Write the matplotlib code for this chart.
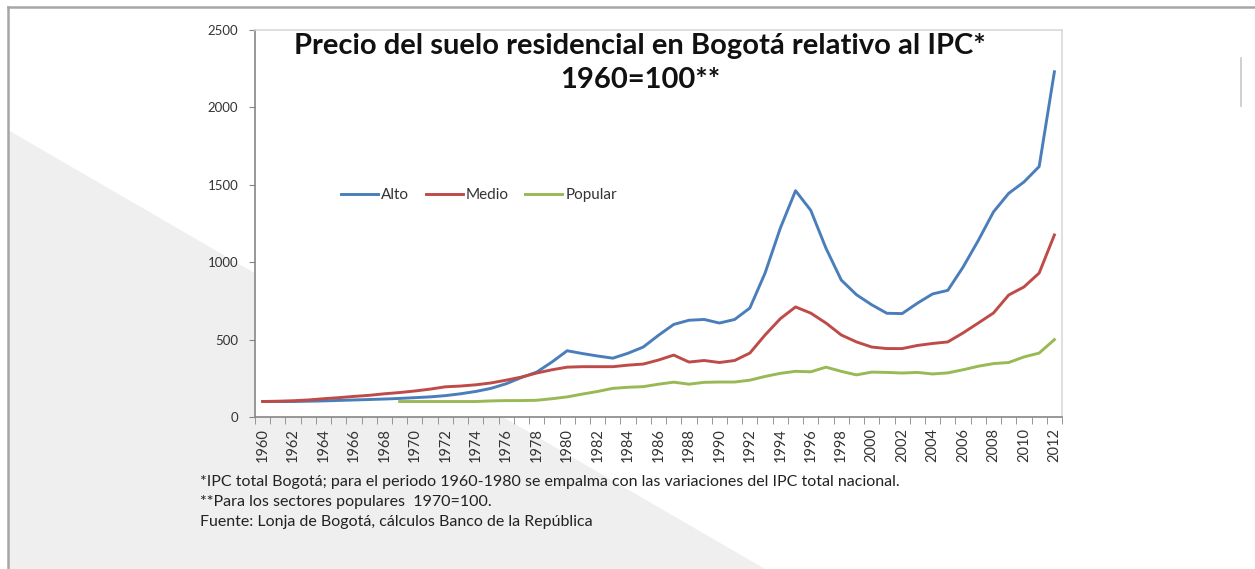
import matplotlib
matplotlib.use("Agg")
import matplotlib.pyplot as plt
from matplotlib.patches import Polygon
from matplotlib.lines import Line2D
import numpy as np

plt.rcParams["font.family"] = ["Lato", "DejaVu Sans"]

# series anuales, indice 1960=100 (popular 1970=100)
years = list(range(1960, 2013))
alto = [100, 100, 100, 102, 104, 107, 110, 113, 116, 120,
        125, 130, 138, 150, 165, 185, 215, 255, 290, 355,
        428, 410, 394, 380, 412, 452, 528, 598, 625, 630,
        607, 630, 704, 930, 1220, 1462, 1335, 1090, 885, 790,
        725, 670, 668, 735, 795, 818, 968, 1140, 1325, 1445,
        1518, 1618, 2230]
medio = [100, 102, 105, 110, 118, 125, 133, 140, 150, 158,
         168, 180, 195, 200, 208, 220, 238, 258, 284, 305,
         322, 325, 325, 325, 335, 342, 368, 400, 355, 365,
         352, 365, 413, 530, 635, 711, 671, 607, 530, 485,
         452, 442, 442, 462, 475, 485, 543, 607, 672, 788,
         840, 930, 1176]
popular = [None] * 9 + [100, 100, 100, 100, 100, 100, 104, 106, 106, 108, 118,
                        130, 148, 165, 185, 192, 196, 212, 225, 212, 224,
                        226, 226, 238, 262, 282, 295, 292, 322, 295, 272,
                        290, 288, 284, 288, 278, 285, 305, 328, 345, 352,
                        388, 413, 500]
series_names = ["Alto", "Medio", "Popular"]
series_colors = ["#4a7ebb", "#be4b48", "#98b954"]

title = "Precio del suelo residencial en Bogotá relativo al IPC*\n1960=100**"
notes = [
    "*IPC total Bogotá; para el periodo 1960-1980 se empalma con las variaciones del IPC total nacional.",
    "**Para los sectores populares  1970=100.",
    "Fuente: Lonja de Bogotá, cálculos Banco de la República",
]

W, H = 1255, 569
fig = plt.figure(figsize=(W / 100, H / 100), dpi=100)
fig.patch.set_facecolor("white")

# fondo: triangulo gris y marco
fig.patches.append(Polygon([(8 / W, 1 - 130 / H), (8 / W, 0), (765 / W, 0)],
                           closed=True, transform=fig.transFigure,
                           facecolor="#efefef", edgecolor="none", zorder=-5))
fig.lines.append(Line2D([8 / W, 1], [1 - 7 / H, 1 - 7 / H], transform=fig.transFigure,
                        color="#a6a6a6", lw=1.8))
fig.lines.append(Line2D([8 / W, 8 / W], [0, 1 - 7 / H], transform=fig.transFigure,
                        color="#a6a6a6", lw=1.8))
fig.lines.append(Line2D([1241 / W, 1241 / W], [1 - 58 / H, 1 - 106 / H], transform=fig.transFigure,
                        color="#c8c8c8", lw=1.2))

ax = fig.add_axes([255 / W, (H - 417) / H, 807 / W, 387 / H])
ax.set_zorder(1)
ax.set_facecolor("white")

x = np.arange(len(years))
for vals, name, col in zip([alto, medio, popular], series_names, series_colors):
    y = np.array([np.nan if v is None else v for v in vals], dtype=float)
    ax.plot(x, y, color=col, lw=2.1, label=name, solid_joinstyle="round")

ax.set_xlim(-0.5, len(years) - 0.5)
ax.set_ylim(0, 2500)
ax.set_yticks(range(0, 2501, 500))
ax.tick_params(axis="y", labelsize=9.5, length=4, color="#868686", pad=8, labelcolor="#333333")

ax.set_xticks(x[::2])
ax.set_xticklabels([str(yr) for yr in years[::2]], rotation=90, fontsize=10.5, color="#333333")
ax.set_xticks(np.arange(-0.5, len(years)), minor=True)
ax.tick_params(axis="x", which="major", length=0, pad=8)
ax.tick_params(axis="x", which="minor", length=5, color="#868686")

for side in ["left", "bottom"]:
    ax.spines[side].set_color("#868686")
    ax.spines[side].set_linewidth(1.2)
for side in ["top", "right"]:
    ax.spines[side].set_color("#d9d9d9")
    ax.spines[side].set_linewidth(1.2)

fig.text(640 / W, 1 - 63 / H, title, ha="center", va="center", fontsize=21,
         fontweight="bold", linespacing=1.38, color="#111111", zorder=3)

ax.legend(loc="center left", bbox_to_anchor=(0.09, 0.574), ncol=3, frameon=False,
          fontsize=11, handlelength=2.4, handletextpad=0.2, columnspacing=1.1,
          labelcolor="#333333")

for i, line in enumerate(notes):
    fig.text(200 / W, 1 - (482 + 20 * i) / H, line, ha="left", va="center",
             fontsize=11.5, color="#222222")

fig.savefig("out.png", dpi=100)
